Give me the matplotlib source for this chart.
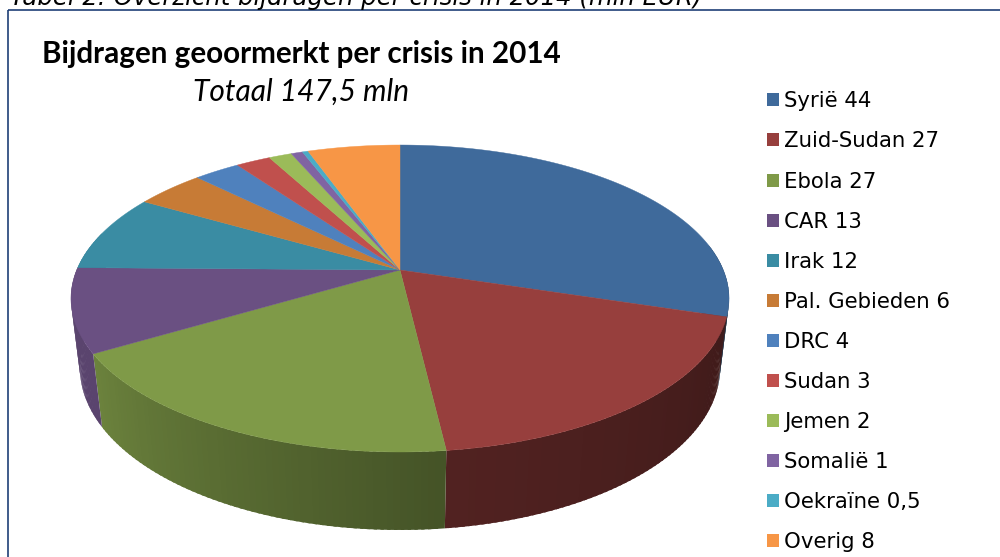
import numpy as np
import matplotlib
matplotlib.use("Agg")
import matplotlib.pyplot as plt
from matplotlib.patches import Patch, Rectangle, Polygon

labels = ["Syrië", "Zuid-Sudan", "Ebola", "CAR", "Irak", "Pal. Gebieden", "DRC",
          "Sudan", "Jemen", "Somalië", "Oekraïne", "Overig"]
values = [44, 27, 27, 13, 12, 6, 4, 3, 2, 1, 0.5, 8]
value_text = ["44", "27", "27", "13", "12", "6", "4", "3", "2", "1", "0,5", "8"]
colors = ["#3f6a9b", "#973f3d", "#7f9a48", "#6a5082", "#3a8ca3", "#c77b36",
          "#4f81bd", "#c0504d", "#9bbb59", "#8064a2", "#4bacc6", "#f79646"]

CX, CY, R, B, K = 400.0, 270.0, 323.3, 148.2, 0.1857
M, H = 0.027, 70.5


def top_face(theta):
    u, v = np.sin(theta), np.cos(theta)
    d = 1 + K * v
    return CX + R * u / d, CY - B * v / d


def bottom_face(theta):
    u, v = np.sin(theta), np.cos(theta)
    d = 1 + K * v + M
    return CX + R * u / d, CY + (H - B * v) / d


def shade(theta):
    return np.interp(np.degrees(theta), [80, 107, 173, 239, 285], [0.42, 0.42, 0.54, 0.85, 0.85])


def darken(color, f):
    return np.array(matplotlib.colors.to_rgb(color)) * f


fig = plt.figure(figsize=(10, 5.57), dpi=100)
ax = fig.add_axes([0, 0, 1, 1])
ax.set_xlim(0, 1000)
ax.set_ylim(557, 0)
ax.axis("off")

ax.add_patch(Rectangle((8.0, 10.0), 1010, 560, fill=False, edgecolor="#1f3f77", linewidth=1.2, zorder=1))

fractions = np.array(values) / sum(values) * 2 * np.pi
ends = np.cumsum(fractions)
starts = ends - fractions

# side wall, drawn first, only for the part of the rim facing the viewer
WALL_FROM, WALL_TO = np.radians(80), np.radians(285)
for a, b, c in zip(starts, ends, colors):
    lo, hi = max(a, WALL_FROM), min(b, WALL_TO)
    if hi <= lo:
        continue
    steps = max(int(np.degrees(hi - lo)), 1)
    grid = np.linspace(lo, hi, steps + 1)
    width = grid[1] - grid[0]
    # draw from the far end back so each strip overlaps its neighbour without seams
    for t0, t1 in zip(grid[:-1][::-1], grid[1:][::-1]):
        arc = np.linspace(t0, min(t1 + 0.5 * width, hi), 5)
        tx, ty = top_face(arc)
        bx, by = bottom_face(arc)
        xs = np.r_[tx, bx[::-1]]
        ys = np.r_[ty, by[::-1]]
        col = darken(c, shade((t0 + t1) / 2))
        ax.add_patch(Polygon(np.c_[xs, ys], closed=True, facecolor=col, edgecolor="none", zorder=2))

# top face
for a, b, c in zip(starts, ends, colors):
    arc = np.linspace(a, b, max(int(np.degrees(b - a)) * 2, 4))
    ex, ey = top_face(arc)
    xs = np.r_[CX, ex]
    ys = np.r_[CY, ey]
    ax.add_patch(Polygon(np.c_[xs, ys], closed=True, facecolor=c, edgecolor=c,
                         linewidth=0.3, zorder=3))

ax.text(42, 54, "Bijdragen geoormerkt per crisis in 2014", family="Lato", weight="bold",
        fontsize=21.3, color="black", ha="left", va="center")
ax.text(193, 92, "Totaal 147,5 mln", family="Lato", style="italic",
        fontsize=21.5, color="black", ha="left", va="center")
ax.text(10, 5, "Tabel 2: Overzicht bijdragen per crisis in 2014 (mln EUR)", family="DejaVu Sans",
        style="italic", fontsize=17.6, color="black", ha="left", va="baseline", clip_on=False)

handles = [Patch(facecolor=c, edgecolor="none") for c in colors]
names = [f"{n} {v}" for n, v in zip(labels, value_text)]
fontsize = 15.3
ax.legend(handles, names, loc="upper left", bbox_to_anchor=(0.767, 0.836), frameon=False,
          prop={"family": "DejaVu Sans", "size": fontsize},
          handlelength=0.565, handleheight=0.565, handletextpad=0.235, labelspacing=0.946,
          borderpad=0, borderaxespad=0)

fig.savefig("out.png", dpi=100, facecolor="white")
